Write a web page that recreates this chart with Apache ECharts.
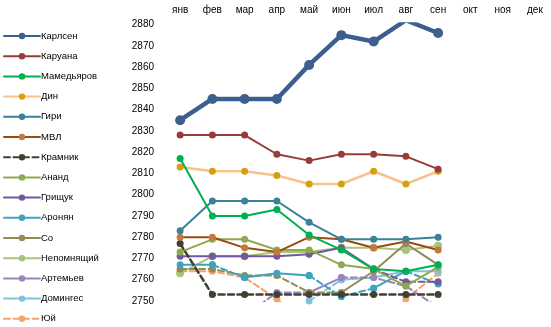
<!DOCTYPE html>
<html><head><meta charset="utf-8">
<script src="https://cdn.jsdelivr.net/npm/echarts@6/dist/echarts.min.js"></script>
<style>html,body{margin:0;padding:0;background:#fff}#c{width:551px;height:327px}</style>
</head><body><div id="c"></div>
<script>
// ---- data ----
const months = ['янв','фев','мар','апр','май','июн','июл','авг','сен','окт','ноя','дек'];
const yMin = 2750, yMax = 2880, yStep = 10;

const names = ['Карлсен','Каруана','Мамедьяров','Дин','Гири','МВЛ','Крамник','Ананд','Грищук','Аронян','Со','Непомнящий','Артемьев','Домингес','Юй'];

const carlsen    = [2835, 2845, 2845, 2845, 2861, 2875, 2872, 2882, 2876];
const caruana    = [2828, 2828, 2828, 2819, 2816, 2819, 2819, 2818, 2812];
const mamedyarov = [2817, 2790, 2790, 2793, 2781, 2774, 2765, 2764, 2767];
const ding       = [2813, 2811, 2811, 2809, 2805, 2805, 2811, 2805, 2811];
const giri       = [2783, 2797, 2797, 2797, 2787, 2779, 2779, 2779, 2780];
const mvl        = [2780, 2780, 2775, 2773, 2780, 2779, 2775, 2778, 2774];
const kramnik    = [2777, 2753, 2753, 2753, 2753, 2753, 2753, 2753, 2753];
const anand      = [2773, 2779, 2779, 2774, 2774, 2767, 2765, 2757, 2766];
const grischuk   = [2771, 2771, 2771, 2771, 2772, 2775, 2765, 2759, 2759];
const aronian    = [2767, 2767, 2761, 2763, 2762, 2752, 2756, 2764, 2758];
const so         = [2765, 2765, 2762, 2762, 2754, 2754, 2764, 2777, 2767];
const nepo       = [2763, 2771, 2771, 2773, 2773, 2775, 2775, 2774, 2776];
const artemiev   = [null, null, 2743, 2754, 2754, 2761, 2761, 2757, 2747];
const dominguez  = [null, null, null, null, 2750, 2760, 2761, 2764, 2764];
const yu         = [2764, 2764, 2761, 2751, 2738, 2737, 2735, 2751, 2763];

const values = [carlsen, caruana, mamedyarov, ding, giri, mvl, kramnik, anand, grischuk, aronian, so, nepo, artemiev, dominguez, yu];

// ---- styles ----
const styleList = [
  {line:'#3D5F8E', mark:'#3D5F8E', w:4.5, s:10},
  {line:'#963C3B', mark:'#963C3B', w:2, s:7},
  {line:'#00B050', mark:'#00B050', w:2, s:7},
  {line:'#FAC090', mark:'#D6A00C', w:2.5, s:7},
  {line:'#3A8299', mark:'#3A8299', w:2, s:7},
  {line:'#9A4C0E', mark:'#C5773F', w:2, s:7},
  {line:'#404033', mark:'#404033', w:2.5, s:7, dash:'all'},
  {line:'#8FAA4E', mark:'#8FAA4E', w:2, s:7},
  {line:'#72589C', mark:'#72589C', w:2, s:7, dash:[6,7]},
  {line:'#3FA3BC', mark:'#3FA3BC', w:2, s:7, dash:[1,4,5,7]},
  {line:'#948A54', mark:'#948A54', w:2, s:7, dash:[0,1,2,3,4]},
  {line:'#A6C47A', mark:'#A6C47A', w:2, s:8},
  {line:'#9A86BA', mark:'#9A86BA', w:2, s:7, dash:[2,3,5,6,7]},
  {line:'#7FC4DA', mark:'#7FC4DA', w:2, s:7, dash:[4]},
  {line:'#F4A46E', mark:'#F4A46E', w:2, s:7, dash:'all'}
];

function buildRuns(vals, dash) {
  const isDash = i => dash === 'all' ? true : (Array.isArray(dash) ? dash.includes(i) : false);
  const runs = [];
  let cur = null;
  for (let i = 0; i < vals.length - 1; i++) {
    if (vals[i] == null || vals[i+1] == null) { cur = null; continue; }
    const d = isDash(i);
    if (!cur || cur.dashed !== d || cur.end !== i) {
      cur = {dashed: d, start: i, end: i};
      runs.push(cur);
    }
    cur.end = i + 1;
  }
  return runs;
}

const series = [];
names.forEach((name, k) => {
  const st = styleList[k];
  const vals = values[k];
  const runs = buildRuns(vals, st.dash);
  const legendDashed = st.dash === 'all';
  runs.sort((a, b) => (a.dashed === legendDashed ? 0 : 1) - (b.dashed === legendDashed ? 0 : 1));
  runs.forEach(r => {
    const data = months.map((m, i) => (i >= r.start && i <= r.end && i < vals.length) ? vals[i] : null);
    series.push({
      name: name, type: 'line', data: data,
      symbol: 'circle', symbolSize: st.s, showSymbol: true, showAllSymbol: true,
      clip: true, animation: false, connectNulls: false,
      lineStyle: {color: st.line, width: st.w, type: r.dashed ? [6, 3.5] : 'solid', cap: 'round', join: 'round'},
      itemStyle: {color: st.mark, borderWidth: 0},
      emphasis: {disabled: true},
      z: 2 + (names.length - k) * 0.01
    });
  });
});

const chart = echarts.init(document.getElementById('c'), null, {renderer: 'canvas'});
chart.setOption({
  backgroundColor: '#fff',
  animation: false,
  textStyle: {fontFamily: 'Liberation Sans'},
  legend: {
    data: names, orient: 'vertical', left: 3, top: 31, padding: 0, height: 300,
    itemWidth: 36, itemHeight: 8, itemGap: 10.2,
    textStyle: {fontSize: 9.5, color: '#000', fontFamily: 'Liberation Sans', padding: [0,0,0,-4]},
    selectedMode: false
  },
  grid: {left: 164, right: 0, top: 24.5, bottom: 26, containLabel: false},
  xAxis: {
    type: 'category', data: months, position: 'top', boundaryGap: true,
    axisLine: {show: false}, axisTick: {show: false}, splitLine: {show: false},
    axisLabel: {fontSize: 10, color: '#000', margin: 9, interval: 0}
  },
  yAxis: {
    type: 'value', min: yMin, max: yMax, interval: yStep,
    axisLine: {show: false}, axisTick: {show: false}, splitLine: {show: false},
    axisLabel: {fontSize: 10, color: '#000', margin: 10, formatter: v => String(v)}
  },
  series: series
});
</script></body></html>
